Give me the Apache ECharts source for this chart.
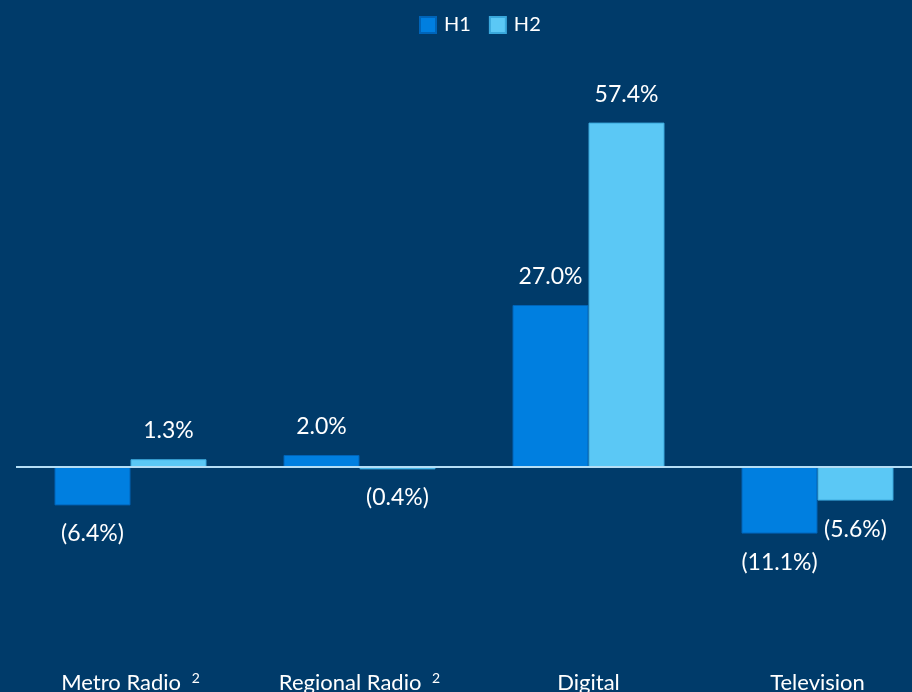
<!DOCTYPE html>
<html>
<head>
<meta charset="utf-8">
<script src="https://cdn.jsdelivr.net/npm/echarts@6/dist/echarts.min.js"></script>
<style>
html,body{margin:0;padding:0;background:#003b6a;}
#chart{width:912px;height:692px;}
</style>
</head>
<body>
<div id="chart"></div>
<script>
var categories = ['Metro Radio \u00B2', 'Regional Radio \u00B2', 'Digital', 'Television'];
var seriesNames = ['H1', 'H2'];
var h1Values = [-6.4, 2.0, 27.0, -11.1];
var h2Values = [1.3, -0.4, 57.4, -5.6];

var FONT = 'Lato, "Noto Sans", sans-serif';

function fmt(v) {
  var s = Math.abs(v).toFixed(1) + '%';
  return v < 0 ? '(' + s + ')' : s;
}
function toData(arr) {
  return arr.map(function (v) {
    return { value: v, label: { position: v < 0 ? 'bottom' : 'top' } };
  });
}

var chart = echarts.init(document.getElementById('chart'), null, { renderer: 'canvas' });
chart.setOption({
  backgroundColor: '#003b6a',
  animation: false,
  textStyle: { fontFamily: FONT },
  legend: {
    data: seriesNames,
    left: 419,
    top: 15,
    padding: 0,
    itemWidth: 16,
    itemHeight: 16,
    itemGap: 18,
    icon: 'rect',
    textStyle: { color: '#ffffff', fontSize: 20, fontFamily: FONT, padding: [0, 0, 0, 3] }
  },
  grid: { left: 16, top: 107, width: 916, height: 561, outerBoundsMode: 'none', containLabel: false },
  xAxis: {
    type: 'category',
    data: categories,
    axisLine: { show: false },
    axisTick: { show: false },
    axisLabel: {
      color: '#ffffff',
      fontSize: 22,
      lineHeight: 24,
      fontFamily: FONT,
      margin: 3,
      interval: 0,
      formatter: function (v) { return v.replace('\u00B2', '{sup|2}'); },
      rich: {
        sup: { color: '#ffffff', fontSize: 14, lineHeight: 24, verticalAlign: 'top', fontFamily: FONT, padding: [0, 0, 0, 5] }
      }
    }
  },
  yAxis: {
    type: 'value',
    min: -33.5,
    max: 60,
    show: false,
    splitLine: { show: false }
  },
  series: [
    {
      name: seriesNames[0],
      type: 'bar',
      data: toData(h1Values),
      barWidth: 76,
      barGap: '0%',
      itemStyle: { color: '#007fe0', borderColor: '#0064b8', borderWidth: 1 },
      label: {
        show: true,
        color: '#ffffff',
        fontSize: 23,
        fontFamily: FONT,
        distance: 17,
        formatter: function (p) { return fmt(p.value); }
      },
      markLine: {
        silent: true,
        symbol: 'none',
        label: { show: false },
        lineStyle: { color: '#b5def5', width: 2, type: 'solid' },
        data: [{ yAxis: 0 }]
      }
    },
    {
      name: seriesNames[1],
      type: 'bar',
      data: toData(h2Values),
      barWidth: 76,
      barGap: '0%',
      itemStyle: { color: '#5bc8f5', borderColor: '#3aa8dc', borderWidth: 1 },
      label: {
        show: true,
        color: '#ffffff',
        fontSize: 23,
        fontFamily: FONT,
        distance: 17,
        formatter: function (p) { return fmt(p.value); }
      }
    }
  ]
});
</script>
</body>
</html>
